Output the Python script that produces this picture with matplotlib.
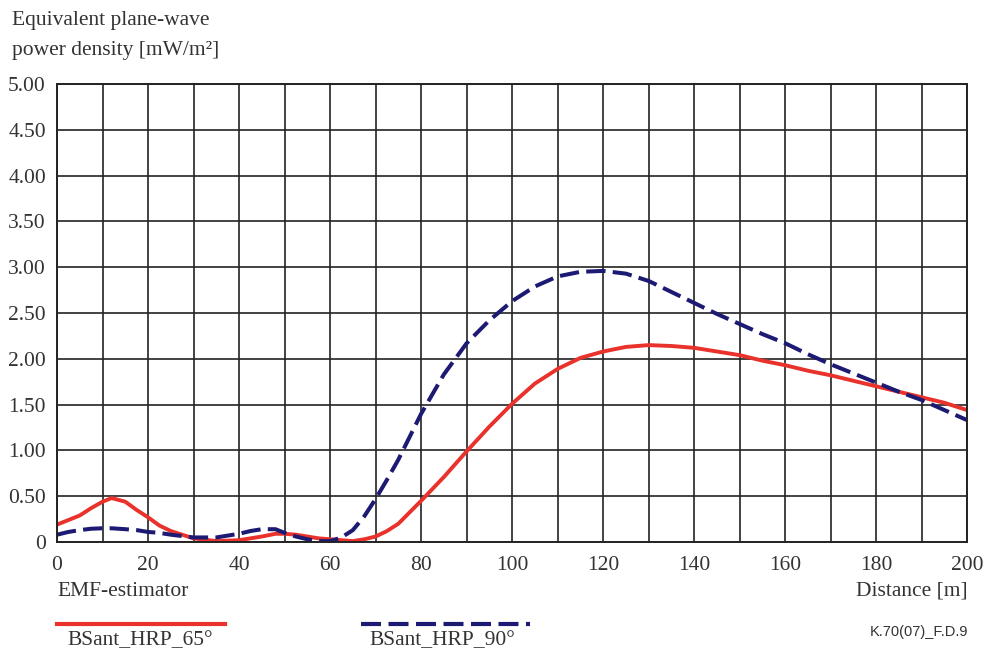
import numpy as np
import matplotlib
matplotlib.use('Agg')
from matplotlib import pyplot as plt
from matplotlib.lines import Line2D

# distance [m] and power density [mW/m^2]
dist = [0, 2.5, 5, 7.5, 10, 12, 15, 17.5, 20, 22.5, 25, 30, 35, 40, 42.5, 45, 48, 50,
        52.5, 55, 57.5, 60, 62.5, 65, 67.5, 70, 72.5, 75, 80, 85,
        90, 95, 100, 105, 110, 115, 120, 125, 130, 135, 140, 145, 150, 155, 160, 165,
        170, 175, 180, 185, 190, 195, 200]
hrp65 = [0.19, 0.24, 0.29, 0.37, 0.44, 0.48, 0.44, 0.35, 0.27, 0.18, 0.12, 0.04, 0.01,
         0.02, 0.04, 0.06, 0.09, 0.09, 0.08, 0.06, 0.04, 0.03, 0.02, 0.01, 0.03, 0.06,
         0.12, 0.20, 0.45, 0.71, 0.99, 1.26, 1.51, 1.73, 1.89, 2.01,
         2.08, 2.13, 2.15, 2.14, 2.12, 2.08, 2.04, 1.98, 1.93, 1.87, 1.82, 1.76, 1.70,
         1.64, 1.58, 1.52, 1.44]
hrp90 = [0.08, 0.11, 0.13, 0.145, 0.15, 0.15, 0.14, 0.13, 0.11, 0.10, 0.08, 0.05, 0.05,
         0.09, 0.12, 0.14, 0.14, 0.10, 0.06, 0.03, 0.01, 0.01, 0.05, 0.13, 0.28, 0.47,
         0.68, 0.90, 1.40, 1.83, 2.17, 2.42, 2.63, 2.79, 2.90, 2.95,
         2.96, 2.93, 2.85, 2.73, 2.61, 2.49, 2.38, 2.27, 2.17, 2.05, 1.94, 1.84, 1.74,
         1.64, 1.55, 1.44, 1.33]

xticks = list(range(0, 201, 20))
yticks = [0, 0.5, 1.0, 1.5, 2.0, 2.5, 3.0, 3.5, 4.0, 4.5, 5.0]
ylabels = ['0'] + ['%.2f' % v for v in yticks[1:]]

red = '#e8322b'
blue = '#1c1a72'
txt = '#333333'
fs = 15.5

plt.rcParams['font.family'] = ['Liberation Serif', 'DejaVu Serif']

fig = plt.figure(figsize=(9.83, 6.51), dpi=100)
ax = fig.add_axes([0.058, 0.1674, 0.926, 0.7035])

ax.plot(dist, hrp65, color=red, lw=2.8, solid_capstyle='round', solid_joinstyle='round')
ax.plot(dist, hrp90, color=blue, lw=2.9, dashes=(4.8, 1.8))

ax.set_xlim(0, 200)
ax.set_ylim(0, 5)
ax.set_xticks(xticks)
ax.set_xticks(range(10, 200, 20), minor=True)
ax.set_yticks(yticks)
ax.set_yticklabels(ylabels)
ax.grid(True, which='both', color='#222222', lw=1.2)
ax.set_axisbelow(True)
ax.tick_params(which='both', length=0, labelsize=fs, labelcolor=txt)
ax.tick_params(axis='x', pad=10)
ax.tick_params(axis='y', pad=8)
for s in ax.spines.values():
    s.set_color('#222222')
    s.set_linewidth(1.4)

fig.text(12/983, 1 - 21/651, 'Equivalent plane-wave', fontsize=fs, color=txt, va='center')
fig.text(12/983, 1 - 50/651, 'power density [mW/m²]', fontsize=fs, color=txt, va='center')
fig.text(57/983, 1 - 592/651, 'EMF-estimator', fontsize=fs, color=txt, va='center')
fig.text(968/983, 1 - 591/651, 'Distance [m]', fontsize=fs, color=txt, va='center', ha='right')

# legend drawn below the axes
fig.add_artist(Line2D([57/983, 225/983], [1 - 624/651] * 2, color=red, lw=3.0,
                      transform=fig.transFigure))
fig.add_artist(Line2D([361/983, 530/983], [1 - 624/651] * 2, color=blue, lw=3.0,
                      dashes=(4.8, 1.8), transform=fig.transFigure))
fig.text(67/983, 1 - 641/651, 'BSant_HRP_65°', fontsize=fs, color=txt, va='center')
fig.text(369/983, 1 - 641/651, 'BSant_HRP_90°', fontsize=fs, color=txt, va='center')
fig.text(968/983, 1 - 632/651, 'K.70(07)_F.D.9', fontsize=10.5, color=txt, va='center',
         ha='right', family=['Liberation Sans', 'DejaVu Sans'])

fig.savefig('out.png', dpi=100)
